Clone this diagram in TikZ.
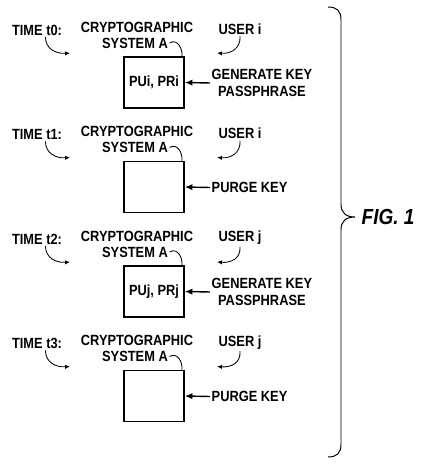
\documentclass[tikz,border=0pt]{standalone}
\usepackage{fontspec}
\setmainfont{Liberation Sans}[FakeStretch=0.87]
\usetikzlibrary{arrows.meta}

\tikzset{
  lbl/.style={inner sep=1pt, font=\fontsize{10.5}{12}\selectfont\bfseries},
  keybox/.style={draw, line width=1pt, minimum width=1.5cm, minimum height=1.28cm,
    inner sep=0pt, font=\fontsize{10.5}{12}\selectfont\bfseries},
  push/.style={-{Latex[length=5.5pt,width=4.5pt]}, line width=1pt},
  hook/.style={-{Latex[length=3.5pt,width=3pt]}, line width=0.6pt},
  fig/.style={inner sep=1pt, font=\fontsize{15.5}{17}\selectfont\bfseries\itshape}
}

\begin{document}
\begin{tikzpicture}[x=0.025cm,y=-0.025cm]
\useasboundingbox (0,0) rectangle (441,466);
\foreach \n/\dy/\u/\cont/\task in {0/0/i/{PUi, PRi}/{GENERATE KEY\\PASSPHRASE},
  1/104.5/i/{}/{PURGE KEY},
  2/209/j/{PUj, PRj}/{GENERATE KEY\\PASSPHRASE},
  3/313.5/j/{}/{PURGE KEY}}
{
  \node[lbl] (time\n) at (37,30+\dy) {TIME t\n:};
  \node[lbl] (crypt\n) at (137,27+\dy) {CRYPTOGRAPHIC};
  \node[lbl] (sysa\n) at (135,43+\dy) {SYSTEM A};
  \node[lbl] (user\n) at (240,29+\dy) {USER \u};
  \node[keybox] (box\n) at (154,82.5+\dy) {\cont};
  \node[lbl, align=center, anchor=west] (task\n) at (210,83+\dy) {\task};
  \coordinate (tin\n) at (70,53+\dy);
  \coordinate (uin\n) at (217,53+\dy);
  \draw[hook] ([xshift=6pt]time\n.south) .. controls +(0,12) and +(-14,1) .. (tin\n);
  \draw[hook] (user\n.south) .. controls +(1,12) and +(14,1) .. (uin\n);
  \draw[line width=0.6pt] (sysa\n.east) .. controls +(8,-5) and +(1,-7) .. ([xshift=-2pt]box\n.north east);
  \draw[push] (task\n.west) -- (box\n.east);
}
% brace round the four steps
\draw[line width=0.7pt] (328,7) .. controls (337,7) and (341,11) .. (341,20) -- (341,204)
  .. controls (341,213) and (346,217) .. (355,217)
  .. controls (346,217) and (341,221) .. (341,230) -- (341,444)
  .. controls (341,453) and (337,457) .. (328,457);
\node[fig, anchor=west] (fig) at (360,217) {FIG. 1};
\end{tikzpicture}
\end{document}
